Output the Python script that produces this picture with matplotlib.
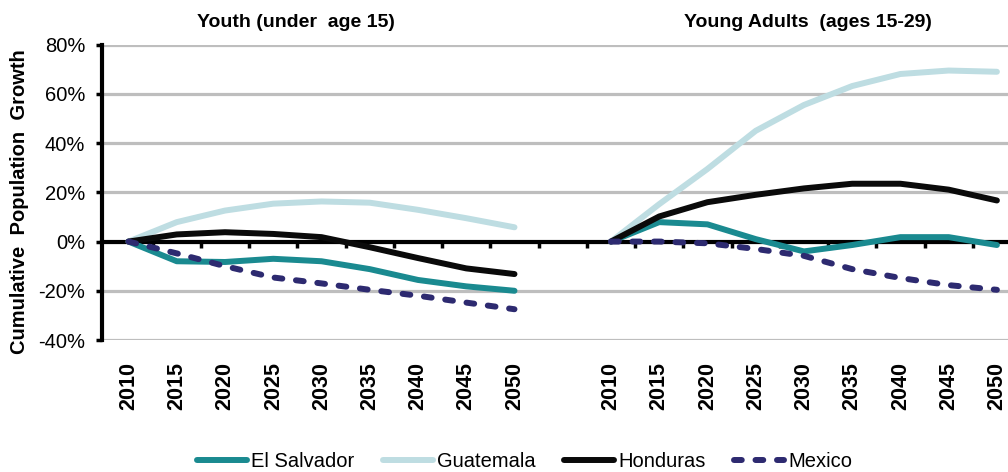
import numpy as np
import matplotlib.pyplot as plt
from matplotlib.ticker import PercentFormatter

plt.rcParams['font.family'] = ['Liberation Sans', 'DejaVu Sans']
plt.rcParams['axes.unicode_minus'] = False

years = ["2010", "2015", "2020", "2025", "2030", "2035", "2040", "2045", "2050"]
titles = ["Youth (under  age 15)", "Young Adults  (ages 15-29)"]
countries = ["El Salvador", "Guatemala", "Honduras", "Mexico"]

# cumulative growth since 2010 (%), under 15
youth_el_salvador = [0, -8.0, -8.3, -7.0, -8.0, -11.2, -15.6, -18.2, -20.0]
youth_guatemala = [0, 7.9, 12.6, 15.4, 16.3, 15.8, 12.9, 9.5, 5.8]
youth_honduras = [0, 2.9, 3.8, 3.1, 1.8, -2.3, -6.7, -10.9, -13.2]
youth_mexico = [0, -4.8, -10.0, -14.6, -17.0, -19.6, -22.0, -24.8, -27.5]

# cumulative growth since 2010 (%), ages 15-29
adult_el_salvador = [0, 7.9, 7.0, 1.0, -4.0, -1.4, 1.8, 1.8, -1.4]
adult_guatemala = [0, 15.2, 29.5, 45.0, 55.5, 63.2, 68.1, 69.5, 69.0]
adult_honduras = [0, 10.2, 16.0, 19.0, 21.6, 23.5, 23.5, 21.1, 16.7]
adult_mexico = [0, 0.0, -0.7, -3.0, -5.8, -11.2, -14.8, -17.7, -19.6]

colors = ["#1A8A90", "#BEDDE2", "#0A0A0A", "#2D2A70"]
youth = [youth_el_salvador, youth_guatemala, youth_honduras, youth_mexico]
adult = [adult_el_salvador, adult_guatemala, adult_honduras, adult_mexico]

x_youth = np.arange(len(years))
x_adult = np.arange(len(years)) + len(years) + 1

fig = plt.figure(figsize=(10.08, 4.72), dpi=100)
ax = fig.add_axes([102/1008, 1 - 340/472, 1 - 102/1008, (340 - 44.7)/472])

handles = []
for name, c, yv, av in zip(countries, colors, youth, adult):
    kw = dict(color=c, lw=4.3, solid_capstyle='round', dash_capstyle='round',
              solid_joinstyle='round')
    if name == "Mexico":
        kw['dashes'] = (1.3, 2.3)
    h, = ax.plot(x_youth, yv, label=name, **kw)
    ax.plot(x_adult, av, **kw)
    handles.append(h)

ax.set_ylim(-40, 80)
ax.set_xlim(-0.55, 18.23)
ax.set_yticks(np.arange(-40, 81, 20))
ax.yaxis.set_major_formatter(PercentFormatter(decimals=0))
ax.yaxis.grid(True, color="#BEBEBE", lw=2.3)
ax.set_axisbelow(True)

for s in ["top", "right", "bottom"]:
    ax.spines[s].set_visible(False)
ax.spines["left"].set_linewidth(3)
ax.tick_params(axis='y', length=4, width=2.5, pad=8, labelsize=14.5)

ax.set_xticks(np.concatenate([x_youth, x_adult]), years + years,
              rotation=90, fontweight='bold', fontsize=15.5)
ax.tick_params(axis='x', length=0, pad=16)

# category axis crossing at zero, tick marks between categories
zero_pos = (0 - (-40)) / 120
sec = ax.secondary_xaxis(zero_pos)
sec.set_xticks(np.arange(0.5, 18, 1.0), [])
sec.spines["bottom"].set_linewidth(3)
sec.spines["top"].set_linewidth(3)
sec.tick_params(axis='x', direction='out', length=4.5, width=2.5)
sec.set_zorder(1.8)

fig.text(296/1008, 1 - 22.5/472, titles[0], ha='center', va='center',
         fontweight='bold', fontsize=14)
fig.text(808/1008, 1 - 22.5/472, titles[1], ha='center', va='center',
         fontweight='bold', fontsize=14)
fig.text(20/1008, 1 - 201.5/472, "Cumulative  Population  Growth", rotation=90,
         ha='center', va='center', fontweight='bold', fontsize=14.5)

fig.legend(handles, countries, loc='center', bbox_to_anchor=(524.5/1008, 10.3/472),
           ncol=4, frameon=False, fontsize=14.5, handlelength=2.5,
           handletextpad=0.2, columnspacing=1.4)

fig.savefig("out.png", dpi=100)
